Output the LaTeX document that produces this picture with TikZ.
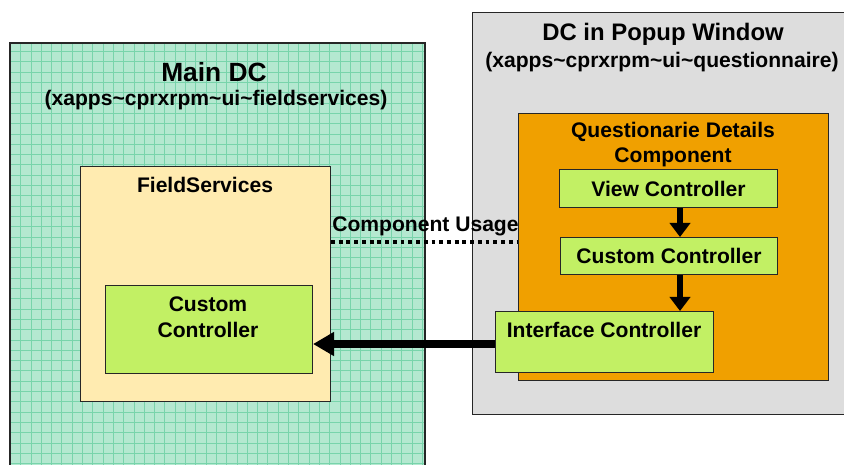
\documentclass[tikz,border=0pt]{standalone}
\usepackage{fontspec}
\setmainfont{Liberation Sans}
\usetikzlibrary{positioning, arrows.meta}
\definecolor{gridgreen}{HTML}{B4E8D0}
\definecolor{gridline}{HTML}{78D4AB}
\definecolor{fsyellow}{HTML}{FFEBB0}
\definecolor{ctrlgreen}{HTML}{C2F064}
\definecolor{compo}{HTML}{F0A000}
\definecolor{popgrey}{HTML}{DDDDDD}

\begin{document}
\begin{tikzpicture}[x=0.02cm,y=-0.02cm,
    box/.style={draw=black!85,line width=0.6pt,inner sep=0pt,anchor=north west},
    ctrl/.style={box,fill=ctrlgreen},
    txt/.style={font=\fontsize{12}{14.5}\selectfont\bfseries,align=center},
    flow/.style={line width=3.6pt,-{Triangle[length=8pt,width=11.5pt]}},
    bigflow/.style={line width=4.2pt,-{Triangle[length=12pt,width=13pt]}}]
    \useasboundingbox (0,0) rectangle (844,464);
    % main DC with grid
    \node[box,fill=gridgreen,minimum width=8.28cm,minimum height=8.6cm] (main) at (10,43) {};
    \begin{scope}
        \clip (main.north west) rectangle (main.south east);
        \draw[gridline,line width=0.35pt,step=0.206cm] (main.north west) grid (main.south east);
    \end{scope}
    \draw[black!85,line width=0.6pt] (main.north west) rectangle (main.south east);
    \node[font=\fontsize{15}{17}\selectfont\bfseries] (maintitle) at (214,72) {Main DC};
    \node[txt] (mainsub) at (216,100) {(xapps\textasciitilde cprxrpm\textasciitilde ui\textasciitilde fieldservices)};

    \node[box,fill=fsyellow,minimum width=5cm,minimum height=4.7cm] (fs) at (80,166) {};
    \node[txt] (fstitle) at (205,185) {FieldServices};
    \node[ctrl,minimum width=4.14cm,minimum height=1.76cm] (cc) at (105,285) {};
    \node[txt,font=\fontsize{12}{14.8}\selectfont\bfseries] (cctext) at (208,317) {Custom\\Controller};

    % popup DC
    \node[box,fill=popgrey,minimum width=7.6cm,minimum height=8.04cm] (pop) at (472,12) {};
    \node[font=\fontsize{13.6}{16}\selectfont\bfseries] (poptitle) at (663,34) {DC in Popup Window};
    \node[txt] (popsub) at (662,62) {(xapps\textasciitilde cprxrpm\textasciitilde ui\textasciitilde questionnaire)};

    \node[box,fill=compo,minimum width=6.2cm,minimum height=5.34cm] (qd) at (518,113) {};
    \node[txt,font=\fontsize{12}{14.2}\selectfont\bfseries] (qdtitle) at (673,145) {Questionarie Details\\Component};
    \node[ctrl,txt,minimum width=4.36cm,minimum height=0.76cm] (vc) at (559,169) {View Controller};
    \node[ctrl,txt,minimum width=4.34cm,minimum height=0.74cm] (cust) at (560,237) {Custom Controller};
    \node[ctrl,minimum width=4.36cm,minimum height=1.22cm] (ic) at (495,311) {};
    \node[txt] (ictext) at (604,330) {Interface Controller};

    % connectors
    \draw[flow] (vc.south -| 680,0) -- (cust.north -| 680,0);
    \draw[flow] (cust.south -| 680,0) -- (ic.north -| 680,0);
    \draw[bigflow] (ic.west |- 0,344) -- (cc.east |- 0,344);
    \draw[line width=2.2pt,dash pattern=on 2.2pt off 2.2pt] (fs.east |- 0,242) -- (qd.west |- 0,242);
    \node[txt,anchor=base west,inner sep=0pt] (usage) at (332,231) {Component Usage};
\end{tikzpicture}
\end{document}
